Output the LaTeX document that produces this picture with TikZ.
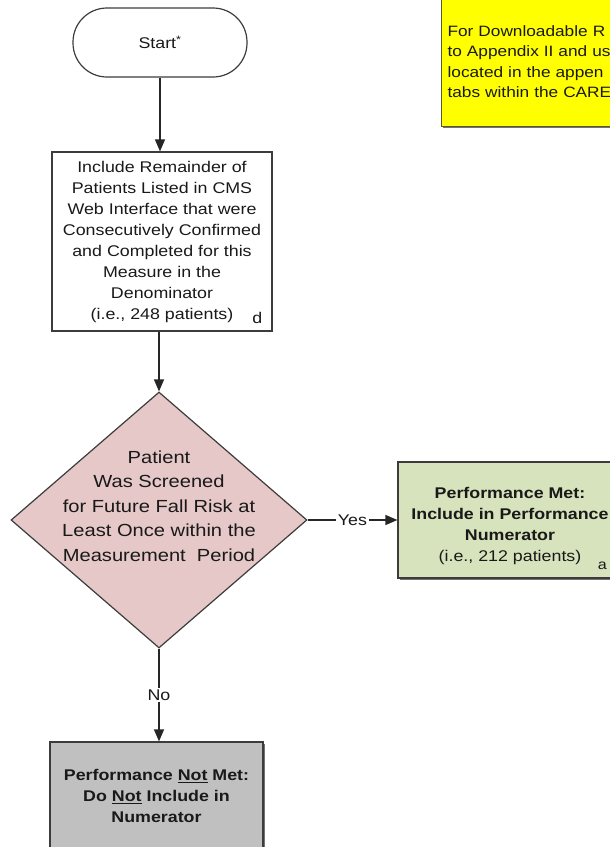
\documentclass[tikz,border=0pt]{standalone}
\usepackage{fontspec}
\setmainfont{Liberation Sans}[FakeStretch=1.15]
\usetikzlibrary{shapes.geometric,arrows.meta,shadows}
\definecolor{edgegray}{RGB}{60,60,60}
\definecolor{decisionpink}{RGB}{229,200,199}
\definecolor{metgreen}{RGB}{214,227,188}
\definecolor{notmetgray}{RGB}{192,192,192}
\definecolor{noteyellow}{RGB}{255,255,0}
\definecolor{noteedge}{RGB}{90,90,40}

\begin{document}
\begin{tikzpicture}[x=1pt, y=-1pt,
    txt/.style={font=\fontsize{15.5}{21}\selectfont, text=black!90},
    box/.style={txt, draw=edgegray, line width=1.2pt, rectangle, align=center, inner sep=2pt},
    shade/.style={drop shadow={shadow xshift=1.5pt, shadow yshift=-1.5pt, fill=black, opacity=0.55}},
    terminal/.style={box, rounded corners=34pt, minimum width=174pt, minimum height=69pt},
    decision/.style={draw=edgegray, line width=1.2pt, diamond, fill=decisionpink, inner sep=0pt,
        minimum width=296pt, minimum height=256pt},
    arrow/.style={draw=black!85, line width=1.3pt, -{Triangle[length=12pt, width=10pt]}},
    answer/.style={txt, fill=white, inner sep=1.5pt}]
    \useasboundingbox (0,0) rectangle (610,847);
    \clip (0,0) rectangle (610,847);

    % Note
    \node[box, shade, draw=noteedge, fill=noteyellow, anchor=north west, minimum width=180pt,
        minimum height=130pt, text width=170pt, align=left, inner xsep=6pt,
        font=\fontsize{15}{20.5}\selectfont] (note) at (441,-4)
        {For Downloadable R\\to Appendix II and us\\located in the appen\\tabs within the CARE};

    % Start
    \node[terminal] (start) at (160,42.5) {Start\textsuperscript{*}};

    % Denominator
    \node[box, minimum width=220pt, minimum height=179pt] (include) at (162,241.5)
        {Include Remainder of\\Patients Listed in CMS\\Web Interface that were\\Consecutively Confirmed\\and Completed for this\\Measure in the\\Denominator\\(i.e., 248 patients)};
    \node[txt, anchor=south east, inner sep=0pt] (dmark) at ([xshift=-10pt, yshift=8pt]include.south east) {d};

    % Decision
    \node[decision, label={[txt, font=\fontsize{17.5}{24.5}\selectfont, align=center, yshift=14pt]center:{Patient\\Was Screened\\for Future Fall Risk at\\Least Once within the\\Measurement~ Period}}] (screen) at (159,520) {};

    % Performance met
    \node[box, shade, fill=metgreen, minimum width=224pt, minimum height=116pt] (met) at (510,520)
        {\rule{0pt}{24pt}\textbf{Performance Met:}\\\textbf{Include in Performance}\\\textbf{Numerator}\\(i.e., 212 patients)};
    \node[txt, anchor=south east, inner sep=0pt, font=\fontsize{14}{16}\selectfont] (amark) at (607,570) {a};

    % Performance not met
    \node[box, shade, fill=notmetgray, minimum width=213pt, minimum height=108pt] (notmet) at (156.5,796)
        {\textbf{Performance \underline{Not} Met:}\\\textbf{Do \underline{Not} Include in}\\\textbf{Numerator}};

    % Connectors
    \draw[arrow] (start.south) -- (start.south |- include.north);
    \draw[arrow] (screen.north |- include.south) -- (screen.north);
    \draw[arrow] (screen.east) -- node[answer] {Yes} (met.west);
    \draw[arrow] (screen.south) -- node[answer] {No} (screen.south |- notmet.north);
\end{tikzpicture}
\end{document}
